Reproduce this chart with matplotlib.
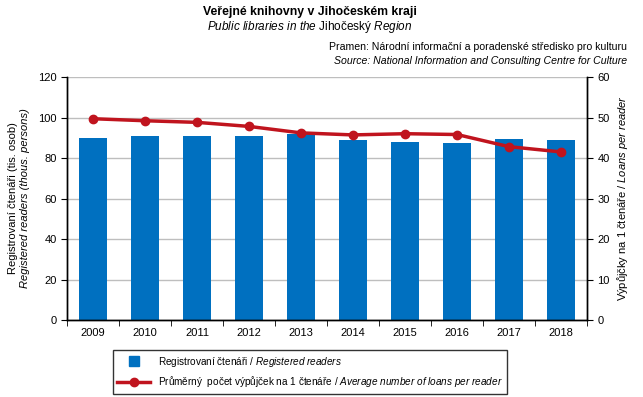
import matplotlib
matplotlib.use("Agg")
import matplotlib.pyplot as plt
import numpy as np
from matplotlib.lines import Line2D

plt.rcParams['font.family'] = ['Liberation Sans', 'DejaVu Sans']
plt.rcParams['mathtext.fontset'] = 'custom'
plt.rcParams['mathtext.rm'] = 'Liberation Sans'
plt.rcParams['mathtext.it'] = 'Liberation Sans:italic'

# data
years = ['2009', '2010', '2011', '2012', '2013', '2014', '2015', '2016', '2017', '2018']
readers = [90.1, 90.8, 90.8, 90.8, 91.8, 89.1, 88.1, 87.2, 89.6, 89.1]
loans = [49.7, 49.2, 48.8, 47.8, 46.2, 45.7, 46.0, 45.8, 42.8, 41.5]

blue = '#0070C0'
red = '#C0141E'

fig = plt.figure(figsize=(6.43, 3.97), dpi=100)
ax = fig.add_axes([67/643, 1 - 320/397, 520/643, 243/397])
ax2 = ax.twinx()

x = np.arange(len(years))
ax.bar(x, readers, width=0.55, color=blue, zorder=2)
ax.set_ylim(0, 120)
ax.set_yticks(range(0, 121, 20))
ax.yaxis.grid(True, color='#BEBEBE', linewidth=1)
ax.set_axisbelow(True)
ax.set_xlim(-0.5, len(years) - 0.5)
ax.set_xticks(x)
ax.set_xticklabels(years)
ax.set_xticks(np.arange(-0.5, len(years)), minor=True)
ax.tick_params(axis='x', which='major', length=0, labelsize=8, pad=6)
ax.tick_params(axis='x', which='minor', length=4, direction='out')
ax.tick_params(axis='y', labelsize=8, length=4)

ax2.plot(x, loans, color=red, linewidth=2.5, marker='o', markersize=6, zorder=3)
ax2.set_ylim(0, 60)
ax2.set_yticks(range(0, 61, 10))
ax2.tick_params(axis='y', labelsize=8, length=4)
ax2.set_zorder(ax.get_zorder() + 1)
ax2.patch.set_visible(False)

for a in (ax, ax2):
    for s in a.spines.values():
        s.set_linewidth(1)
    a.spines['top'].set_visible(False)

# axis labels
fig.text(13/643, 1 - 198/397, 'Registrovaní čtenáři (tis. osob)', rotation=90,
         ha='center', va='center', fontsize=8)
fig.text(25/643, 1 - 198/397, 'Registered readers (thous. persons)', rotation=90,
         ha='center', va='center', fontsize=8, style='italic')
fig.text(622/643, 1 - 198/397, r'Výpůjčky na 1 čtenáře / $\mathit{Loans\ per\ reader}$',
         rotation=90, ha='center', va='center', fontsize=8)

# titles
fig.text(310/643, 1 - 12/397, 'Veřejné knihovny v Jihočeském kraji', ha='center', va='center',
         fontsize=8.8, fontweight='bold')
fig.text(310/643, 1 - 27/397, r'$\mathit{Public\ libraries\ in\ the}$ Jihočeský $\mathit{Region}$',
         ha='center', va='center', fontsize=8.5)
fig.text(627/643, 1 - 47/397, 'Pramen: Národní informační a poradenské středisko pro kulturu',
         ha='right', va='center', fontsize=7.6)
fig.text(627/643, 1 - 61/397, 'Source: National Information and Consulting Centre for Culture',
         ha='right', va='center', fontsize=7.6, style='italic')

handles = [
    Line2D([], [], color=blue, marker='s', markersize=7, linestyle='none'),
    Line2D([], [], color=red, marker='o', markersize=6, linewidth=2.5),
]
labels = [
    r'Registrovaní čtenáři / $\mathit{Registered\ readers}$',
    r'Průměrný  počet výpůjček na 1 čtenáře / $\mathit{Average\ number\ of\ loans\ per\ reader}$',
]
leg = fig.legend(handles, labels, loc='center', bbox_to_anchor=(310/643, 1 - 372/397),
                 fontsize=7.2, frameon=True, fancybox=False, edgecolor='black',
                 handlelength=3.3, handletextpad=0.8, borderpad=0.45, labelspacing=0.55)
leg.get_frame().set_linewidth(1)

fig.savefig('out.png', dpi=100)
